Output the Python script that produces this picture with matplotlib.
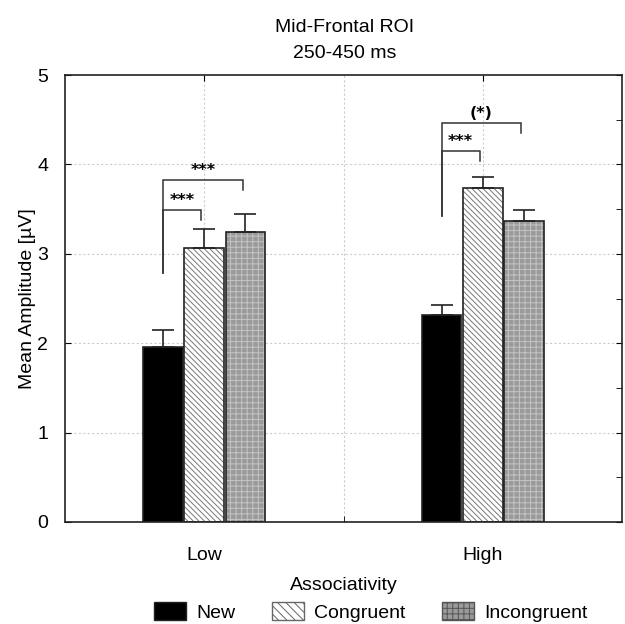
import matplotlib
matplotlib.use("Agg")
import matplotlib.pyplot as plt
import numpy as np
from matplotlib.patches import Patch

plt.rcParams['font.family'] = ['Liberation Sans', 'DejaVu Sans']
plt.rcParams['hatch.linewidth'] = 0.7

groups = ["Low", "High"]
conditions = ["New", "Congruent", "Incongruent"]
means = {
    "New": [1.96, 2.31],
    "Congruent": [3.07, 3.74],
    "Incongruent": [3.24, 3.37],
}
errors = {
    "New": [0.19, 0.12],
    "Congruent": [0.21, 0.12],
    "Incongruent": [0.20, 0.12],
}
# significance brackets: (group, from cond, to cond, top y, left leg bottom, right leg bottom, label)
brackets = [
    (0, "New", "Congruent", 3.49, 2.78, 3.38, "***"),
    (0, "New", "Incongruent", 3.83, 2.78, 3.71, "***"),
    (1, "New", "Congruent", 4.15, 3.42, 4.04, "***"),
    (1, "New", "Incongruent", 4.46, 3.42, 4.35, "(*)"),
]

fig = plt.figure(figsize=(6.25, 6.24), dpi=100)
ax = fig.add_axes([65/625, 1-522/624, 557/625, 447/624])

x = np.arange(len(groups))
width = 0.143
offsets = {"New": -0.148, "Congruent": 0.0, "Incongruent": 0.148}

styles = {
    "New": dict(face="black", hatch=None, hcol=None),
    "Congruent": dict(face="white", hatch="\\\\\\\\\\\\", hcol="#777777"),
    "Incongruent": dict(face="#9a9a9a", hatch="+++", hcol="#c4c4c4"),
}

for c in conditions:
    st = styles[c]
    pos = x + offsets[c]
    ax.bar(pos, means[c], width, color=st["face"], edgecolor="none", zorder=2)
    if st["hatch"]:
        ax.bar(pos, means[c], width, color="none", edgecolor=st["hcol"],
               hatch=st["hatch"], linewidth=0, zorder=3)
    ax.bar(pos, means[c], width, color="none", edgecolor="#222222",
           linewidth=1.2, zorder=4)
    ax.errorbar(pos, means[c], yerr=[np.zeros(len(pos)), errors[c]], fmt="none",
                ecolor="#222222", elinewidth=1.2, capsize=8, capthick=1.2, zorder=5)

for g, c1, c2, top, lb, rb, lab in brackets:
    x1 = x[g] + offsets[c1]
    x2 = x[g] + offsets[c2] - 0.01
    ax.plot([x1, x1, x2, x2], [lb, top, top, rb], color="#333333", lw=1.1,
            zorder=6, solid_joinstyle="miter")
    ax.text((x1 + x2) / 2, top + 0.02, lab, ha="center", va="bottom",
            fontsize=11.5, fontweight="bold", family="DejaVu Sans", zorder=6)

ax.set_xlim(-0.5, 1.5)
ax.set_ylim(0, 5)
ax.set_yticks([0, 1, 2, 3, 4, 5])
ax.set_yticks(np.arange(0.5, 5, 1.0), minor=True)
ax.set_xticks(x)
ax.set_xticklabels(groups, fontsize=14)
ax.set_xticks([0.5], minor=True)
ax.tick_params(axis="y", which="major", direction="in", left=True, right=True,
               length=4, labelsize=14, pad=12)
ax.tick_params(axis="y", which="minor", direction="in", left=False, right=True, length=4)
ax.tick_params(axis="x", which="major", direction="in", bottom=False, top=True,
               length=4, labelsize=14, pad=18)
ax.tick_params(axis="x", which="minor", direction="in", bottom=True, top=False, length=4)

for yv in [1, 2, 3, 4]:
    ax.axhline(yv, color="#cccccc", lw=0.8, ls=(0, (2, 2)), zorder=1)
for xv in [0, 0.5, 1]:
    ax.axvline(xv, color="#cccccc", lw=0.8, ls=(0, (2, 2)), zorder=1)

for s in ax.spines.values():
    s.set_linewidth(1.2)
    s.set_color("#222222")

ax.set_ylabel("Mean Amplitude [µV]", fontsize=14, labelpad=1)
ax.set_xlabel("Associativity", fontsize=14, labelpad=9)
fig.text(345/625, 1-28/624, "Mid-Frontal ROI", ha="center", va="center", fontsize=14)
fig.text(345/625, 1-53/624, "250-450 ms", ha="center", va="center", fontsize=14)

handles = [
    Patch(facecolor="black", edgecolor="#222222", label="New"),
    Patch(facecolor="white", edgecolor="#666666", hatch="\\\\\\\\", label="Congruent"),
    Patch(facecolor="#9a9a9a", edgecolor="#555555", hatch="+++", label="Incongruent"),
]
fig.legend(handles=handles, loc="center", bbox_to_anchor=(371/625, 1-612/624),
           ncol=3, frameon=False, fontsize=14, handlelength=1.65, handleheight=1.0,
           handletextpad=0.5, columnspacing=1.9)

fig.savefig("out.png", dpi=100)
